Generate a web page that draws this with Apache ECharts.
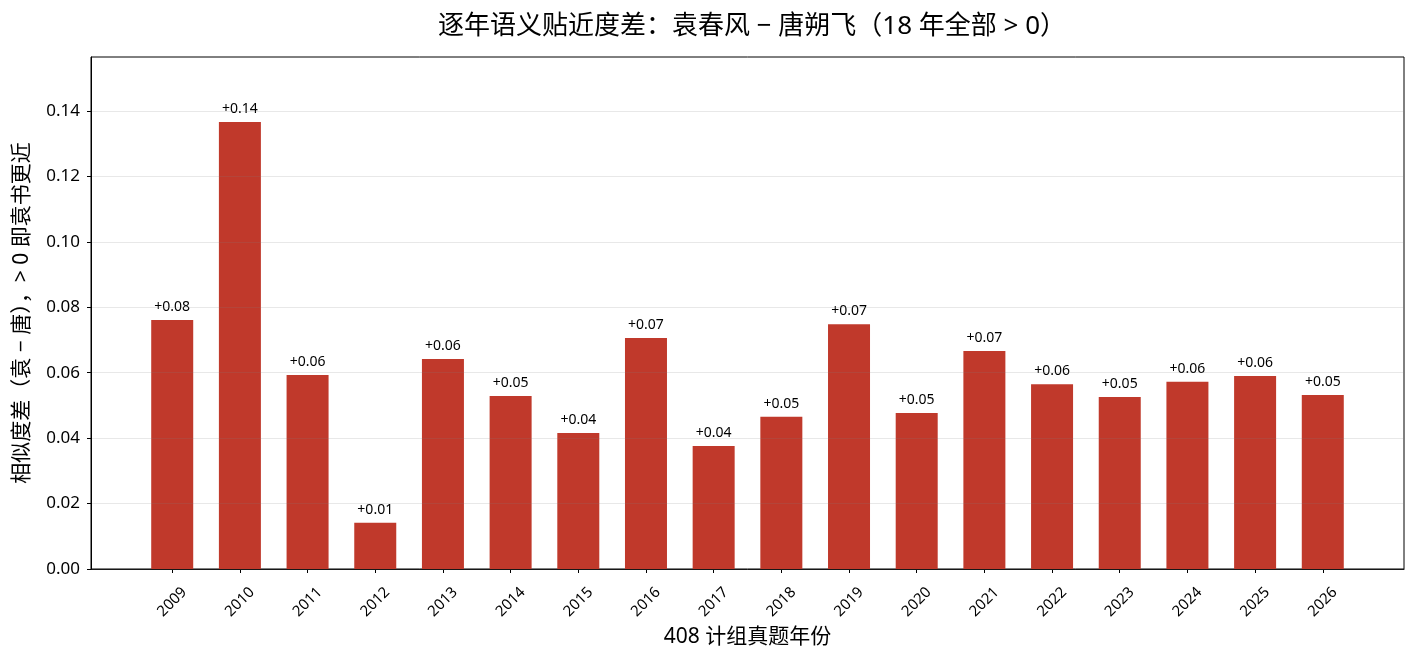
<!DOCTYPE html>
<html>
<head>
<meta charset="utf-8">
<script src="https://cdn.jsdelivr.net/npm/echarts@6/dist/echarts.min.js"></script>
<style>
  html, body { margin: 0; padding: 0; background: #fff; }
  #chart { width: 1417px; height: 663px; }
</style>
</head>
<body>
<div id="chart"></div>
<script>
// 年份 & 相似度差（袁 − 唐）
var years = ['2009', '2010', '2011', '2012', '2013', '2014', '2015', '2016', '2017',
             '2018', '2019', '2020', '2021', '2022', '2023', '2024', '2025', '2026'];
var diffs = [0.0761, 0.1366, 0.0593, 0.0141, 0.0642, 0.0529, 0.0416, 0.0706, 0.0376,
             0.0465, 0.0748, 0.0477, 0.0666, 0.0565, 0.0526, 0.0572, 0.0590, 0.0532];
var yTicks = [0, 0.02, 0.04, 0.06, 0.08, 0.10, 0.12, 0.14];

var FONT = '"Noto Sans", "Noto Sans CJK SC", sans-serif';
var idx = years.map(function (y, i) { return i; });

var myChart = echarts.init(document.getElementById('chart'));

myChart.setOption({
    animation: false,
    textStyle: { fontFamily: FONT },
    title: {
        text: '逐年语义贴近度差：袁春风 − 唐朔飞（18 年全部 > 0）',
        left: 747,
        textAlign: 'center',
        top: 9,
        textStyle: { fontFamily: FONT, fontSize: 26, fontWeight: 'normal', color: '#000' }
    },
    grid: {
        left: 91,
        right: 13,
        top: 57,
        bottom: 94,
        show: true,
        borderColor: '#000',
        borderWidth: 1
    },
    xAxis: {
        type: 'value',
        min: -1.2,
        max: 18.2,
        name: '408 计组真题年份',
        nameLocation: 'middle',
        nameGap: 58,
        nameTextStyle: { fontFamily: FONT, fontSize: 21, color: '#000' },
        axisLine: { show: true, onZero: false, lineStyle: { color: '#000', width: 1 } },
        axisTick: { show: true, length: 4, customValues: idx, lineStyle: { color: '#000' } },
        axisLabel: {
            customValues: idx,
            rotate: 45,
            align: 'center',
            verticalAlign: 'middle',
            margin: 33,
            fontSize: 15,
            color: '#000',
            fontFamily: FONT,
            formatter: function (v) { return years[Math.round(v)]; }
        },
        splitLine: { show: false }
    },
    yAxis: {
        type: 'value',
        min: 0,
        max: 0.1565,
        z: 3,
        name: '相似度差（袁 − 唐），> 0 即袁书更近',
        nameLocation: 'middle',
        nameGap: 58,
        nameTextStyle: { fontFamily: FONT, fontSize: 21, color: '#000' },
        axisLine: { show: true, onZero: false, lineStyle: { color: '#000', width: 1 } },
        axisTick: { show: true, length: 4, customValues: yTicks, lineStyle: { color: '#000' } },
        axisLabel: {
            customValues: yTicks,
            fontSize: 17,
            color: '#000',
            fontFamily: FONT,
            margin: 11,
            formatter: function (v) { return v.toFixed(2); }
        },
        splitLine: { show: true, lineStyle: { color: 'rgba(128,128,128,0.18)', width: 1 } }
    },
    series: [
        {
            name: '相似度差',
            type: 'bar',
            barWidth: 42,
            itemStyle: { color: '#c0392b' },
            label: {
                show: true,
                position: 'top',
                distance: 6,
                fontSize: 14,
                color: '#000',
                fontFamily: FONT,
                formatter: function (p) { return '+' + p.value[1].toFixed(2); }
            },
            data: diffs.map(function (v, i) { return [i, v]; })
        }
    ]
});
</script>
</body>
</html>
